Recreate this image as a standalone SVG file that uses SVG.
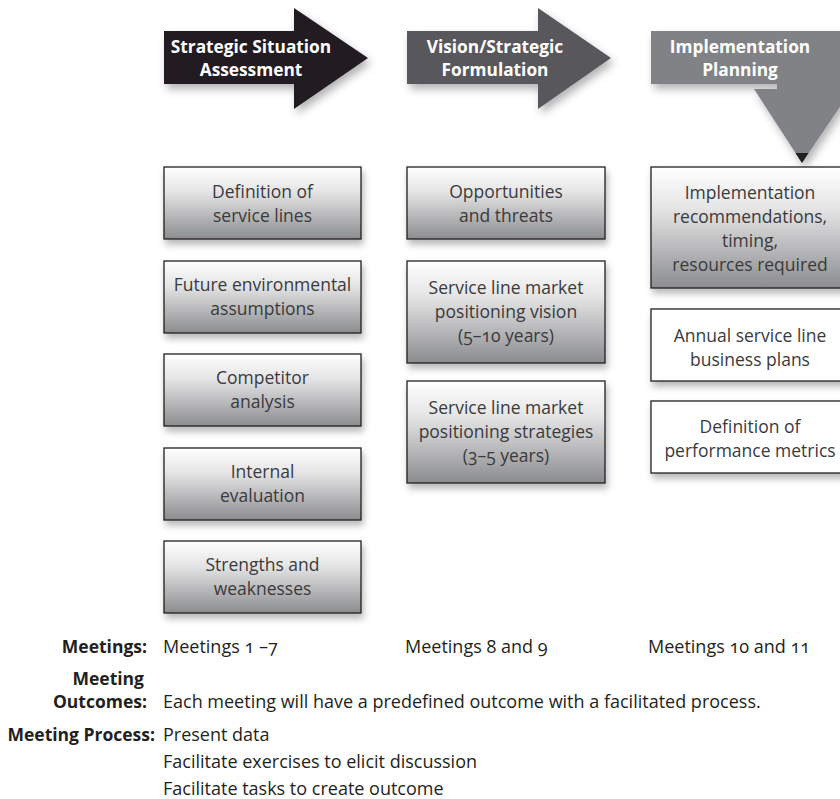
<svg xmlns="http://www.w3.org/2000/svg" width="840" height="799" viewBox="0 0 840 799">
  <style>
    .head { font-family: "Open Sans", Lato, "Liberation Sans", sans-serif; font-weight: 700; font-size: 17.3px; fill: #ffffff; text-anchor: middle; }
    .box { stroke: #231f20; stroke-width: 1.3; }
    .grad { fill: url(#boxFill); }
    .plain { fill: #ffffff; }
    .lbl { font-family: "Open Sans", Lato, "Liberation Sans", sans-serif; font-size: 17.5px; fill: #3a3a3c; text-anchor: middle; font-variant-numeric: oldstyle-nums; }
    .key { font-family: "Open Sans", Lato, "Liberation Sans", sans-serif; font-weight: 700; font-size: 17.5px; fill: #231f20; text-anchor: end; }
    .txt { font-family: "Open Sans", Lato, "Liberation Sans", sans-serif; font-size: 18px; fill: #231f20; font-variant-numeric: oldstyle-nums; }
  </style>
  <defs>
    <linearGradient id="boxFill" x1="0" y1="0" x2="0" y2="1">
      <stop offset="0" stop-color="#ffffff"/>
      <stop offset="0.35" stop-color="#e4e4e5"/>
      <stop offset="1" stop-color="#8b8c8e"/>
    </linearGradient>
    <filter id="arrowShadow" x="-10%" y="-10%" width="130%" height="140%">
      <feDropShadow dx="3" dy="5" stdDeviation="4" flood-color="#000000" flood-opacity="0.3"/>
    </filter>
    <filter id="boxShadow" x="-10%" y="-10%" width="125%" height="140%">
      <feDropShadow dx="2" dy="5" stdDeviation="3.5" flood-color="#000000" flood-opacity="0.28"/>
    </filter>
  </defs>

  <rect width="840" height="799" fill="#ffffff"/>

  <!-- phase header arrows -->
  <g id="phase-assessment">
    <path d="M164,31 H294 V8 L368,58 L294,109 V84 H164 Z" fill="#231f20" filter="url(#arrowShadow)"/>
    <text class="head" x="251" y="53">Strategic Situation</text>
    <text class="head" x="251" y="76">Assessment</text>
  </g>
  <g id="phase-formulation">
    <path d="M407,31 H538 V8 L611,58 L538,109 V84 H407 Z" fill="#58595b" filter="url(#arrowShadow)"/>
    <text class="head" x="495" y="53">Vision/Strategic</text>
    <text class="head" x="495" y="76">Formulation</text>
  </g>
  <g id="phase-implementation">
    <path d="M651,31 H852 V89 L802,163 L754,89 H777 V84 H651 Z" fill="#808285" filter="url(#arrowShadow)"/>
    <path d="M795.5,153 H808.5 L802,163 Z" fill="#231f20"/>
    <text class="head" x="740" y="53">Implementation</text>
    <text class="head" x="740" y="76">Planning</text>
  </g>

  <!-- no connecting lines between the boxes -->
  <g id="connectors"/>

  <!-- column 1: strategic situation assessment -->
  <g id="service-lines">
    <rect class="box grad" x="164" y="167" width="197" height="72" filter="url(#boxShadow)"/>
    <text class="lbl" x="262.5" y="198">Definition of</text>
    <text class="lbl" x="262.5" y="222">service lines</text>
  </g>
  <g id="environmental-assumptions">
    <rect class="box grad" x="164" y="261" width="197" height="72" filter="url(#boxShadow)"/>
    <text class="lbl" x="262.5" y="291">Future environmental</text>
    <text class="lbl" x="262.5" y="315">assumptions</text>
  </g>
  <g id="competitor-analysis">
    <rect class="box grad" x="164" y="354" width="197" height="72" filter="url(#boxShadow)"/>
    <text class="lbl" x="262.5" y="384">Competitor</text>
    <text class="lbl" x="262.5" y="408">analysis</text>
  </g>
  <g id="internal-evaluation">
    <rect class="box grad" x="164" y="448" width="197" height="72" filter="url(#boxShadow)"/>
    <text class="lbl" x="262.5" y="478">Internal</text>
    <text class="lbl" x="262.5" y="502">evaluation</text>
  </g>
  <g id="strengths-weaknesses">
    <rect class="box grad" x="164" y="541" width="197" height="72" filter="url(#boxShadow)"/>
    <text class="lbl" x="262.5" y="571">Strengths and</text>
    <text class="lbl" x="262.5" y="595">weaknesses</text>
  </g>

  <!-- column 2: vision / strategic formulation -->
  <g id="opportunities-threats">
    <rect class="box grad" x="407" y="167" width="198" height="72" filter="url(#boxShadow)"/>
    <text class="lbl" x="506" y="198">Opportunities</text>
    <text class="lbl" x="506" y="222">and threats</text>
  </g>
  <g id="positioning-vision">
    <rect class="box grad" x="407" y="261" width="198" height="102" filter="url(#boxShadow)"/>
    <text class="lbl" x="506" y="294">Service line market</text>
    <text class="lbl" x="506" y="318">positioning vision</text>
    <text class="lbl" x="506" y="342">(5–10 years)</text>
  </g>
  <g id="positioning-strategies">
    <rect class="box grad" x="407" y="381" width="198" height="102" filter="url(#boxShadow)"/>
    <text class="lbl" x="506" y="414">Service line market</text>
    <text class="lbl" x="506" y="438">positioning strategies</text>
    <text class="lbl" x="506" y="462">(3–5 years)</text>
  </g>

  <!-- column 3: implementation planning -->
  <g id="implementation-recommendations">
    <rect class="box grad" x="651" y="167" width="198" height="121" filter="url(#boxShadow)"/>
    <text class="lbl" x="750" y="199">Implementation</text>
    <text class="lbl" x="750" y="223">recommendations,</text>
    <text class="lbl" x="750" y="247">timing,</text>
    <text class="lbl" x="750" y="271">resources required</text>
  </g>
  <g id="business-plans">
    <rect class="box plain" x="651" y="309" width="198" height="72" filter="url(#boxShadow)"/>
    <text class="lbl" x="750" y="342">Annual service line</text>
    <text class="lbl" x="750" y="366">business plans</text>
  </g>
  <g id="performance-metrics">
    <rect class="box plain" x="651" y="401" width="198" height="72" filter="url(#boxShadow)"/>
    <text class="lbl" x="750" y="433">Definition of</text>
    <text class="lbl" x="750" y="457">performance metrics</text>
  </g>

  <!-- meeting schedule notes -->
  <g id="meeting-notes">
    <text class="key" x="147" y="653">Meetings:</text>
    <text class="txt" x="163" y="653">Meetings 1 –7</text>
    <text class="txt" x="405" y="653">Meetings 8 and 9</text>
    <text class="txt" x="648" y="653">Meetings 10 and 11</text>

    <text class="key" x="144" y="685">Meeting</text>
    <text class="key" x="147" y="708">Outcomes:</text>
    <text class="txt" x="163" y="708">Each meeting will have a predefined outcome with a facilitated process.</text>

    <text class="key" x="155" y="741">Meeting Process:</text>
    <text class="txt" x="163" y="741">Present data</text>
    <text class="txt" x="163" y="768">Facilitate exercises to elicit discussion</text>
    <text class="txt" x="163" y="795">Facilitate tasks to create outcome</text>
  </g>
</svg>
